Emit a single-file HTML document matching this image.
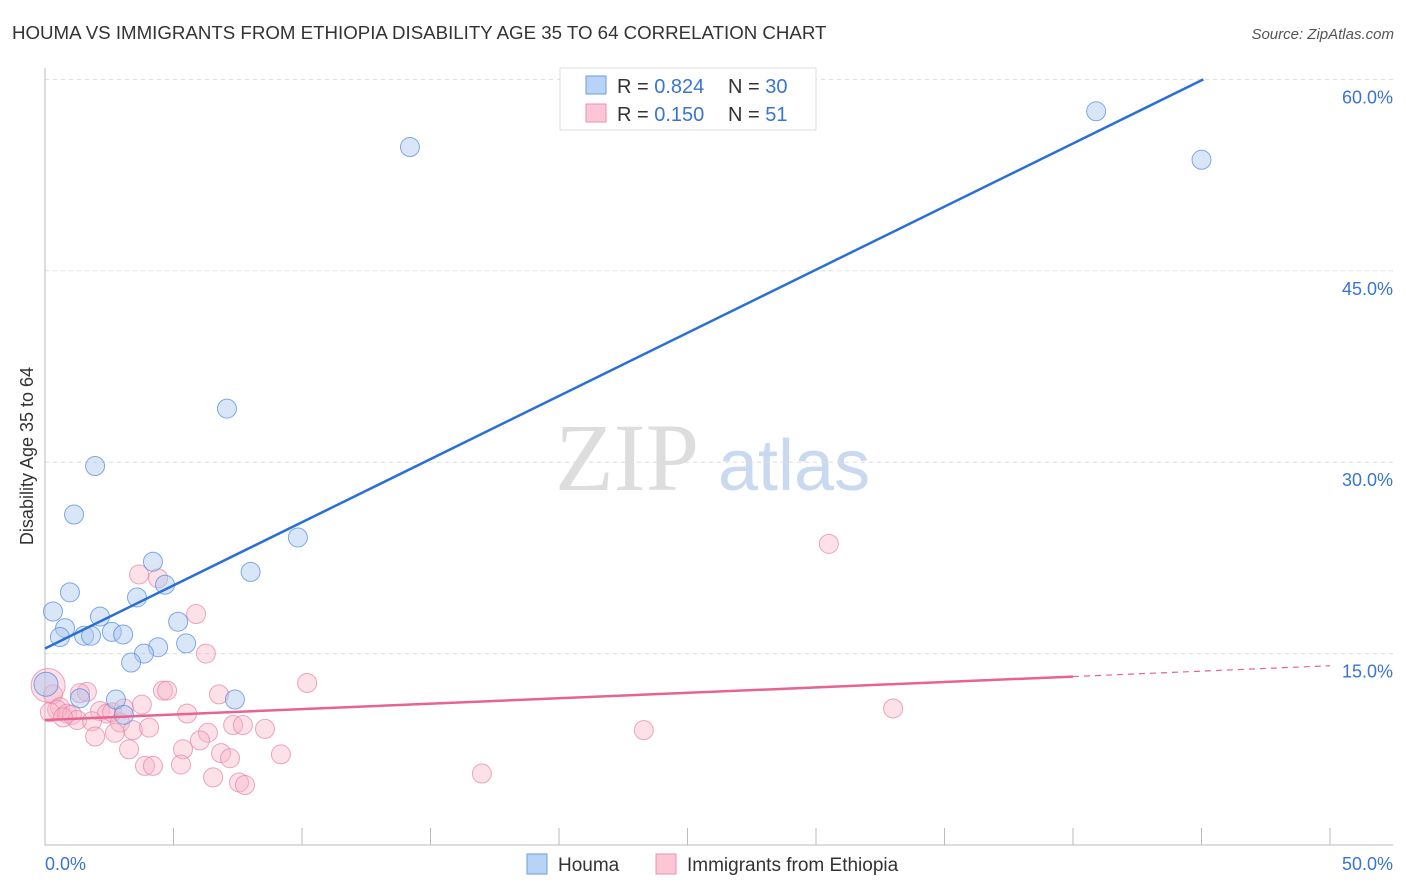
<!DOCTYPE html>
<html><head><meta charset="utf-8"><style>
body{margin:0;background:#fff;font-family:"Liberation Sans",sans-serif;}
#wrap{position:relative;width:1406px;height:892px;overflow:hidden;}
</style></head><body>
<div id="wrap">
<svg id="svg" width="1406" height="892" xmlns="http://www.w3.org/2000/svg">
<text x="12" y="39" font-size="18.7" fill="#333">HOUMA VS IMMIGRANTS FROM ETHIOPIA DISABILITY AGE 35 TO 64 CORRELATION CHART</text>
<text x="1394" y="39" font-size="15" fill="#555" font-style="italic" text-anchor="end">Source: ZipAtlas.com</text>
<text x="555" y="490" font-size="96" fill="#ddd" font-family="Liberation Serif,serif">ZIP</text>
<text x="718" y="490" font-size="72" fill="#c8d9f0">atlas</text>
<text transform="translate(33,456) rotate(-90)" font-size="18" fill="#333" text-anchor="middle">Disability Age 35 to 64</text>
<g id="grid"></g><g id="axes"></g><g id="pts"></g><g id="lines"></g>
<g>
<rect x="560" y="68" width="256" height="62" fill="#fff" stroke="#ddd"/>
<rect x="586" y="76" width="20" height="18" fill="#b8d3f5" stroke="#6a9de0"/>
<rect x="586" y="104" width="20" height="18" fill="#fcc6d6" stroke="#ec8fae"/>
<text x="617" y="93" font-size="20" fill="#333">R = <tspan fill="#3a74d2">0.824</tspan><tspan x="728">N = </tspan><tspan fill="#3a74d2">30</tspan></text>
<text x="617" y="121" font-size="20" fill="#333">R = <tspan fill="#3a74d2"> 0.150</tspan><tspan x="728">N = </tspan><tspan fill="#3a74d2"> 51</tspan></text>
</g>
<g>
<rect x="527" y="854" width="20" height="20" fill="#b8d3f5" stroke="#6a9de0"/>
<text x="558" y="871" font-size="19" fill="#333">Houma</text>
<rect x="656" y="854" width="20" height="20" fill="#fcc6d6" stroke="#ec8fae"/>
<text x="687" y="871" font-size="19" fill="#333">Immigrants from Ethiopia</text>
</g>
</svg>
</div>
<script>
const yTicks=[15,30,45,60];
const yTickLabels=["15.0%","30.0%","45.0%","60.0%"];
const xTickLabels=["0.0%","50.0%"];
const houmaX=[14.2,40.9,45.0,7.08,1.95,1.13,9.84,4.2,8.0,4.67,0.97,3.58,0.31,2.14,5.18,0.78,0.58,1.52,1.79,2.6,3.04,5.49,4.4,3.85,3.35,0.04,1.36,2.76,7.39,3.07];
const houmaY=[54.7,57.5,53.7,34.2,29.7,25.9,24.1,22.2,21.4,20.4,19.8,19.4,18.3,17.9,17.5,17.0,16.3,16.4,16.4,16.7,16.5,15.8,15.5,15.0,14.3,12.6,11.5,11.4,11.4,10.2];
const ethX=[30.5,33.0,23.3,17.0,3.66,4.40,5.88,6.26,10.2,4.59,4.75,6.77,1.63,0.31,0.12,0.58,0.47,0.86,1.05,1.25,1.36,2.14,2.41,2.61,1.83,2.92,3.07,3.77,3.42,1.95,3.27,3.89,4.20,4.05,5.53,6.34,6.03,5.37,5.29,6.54,6.85,7.20,7.32,7.70,8.56,9.18,7.55,7.78,0.19,0.70,2.72];
const ethY=[23.6,10.7,9.0,5.6,21.2,20.9,18.1,15.0,12.7,12.1,12.1,11.8,12.0,11.8,12.5,10.8,10.6,10.3,10.2,9.8,11.9,10.5,10.3,10.4,9.7,9.6,10.7,11.0,9.0,8.5,7.5,6.2,6.2,9.2,10.3,8.8,8.2,7.5,6.3,5.3,7.2,6.8,9.4,9.4,9.1,7.1,4.9,4.7,10.4,10.0,8.8];
const houmaTrend=[15.4,0.9895]; // intercept, slope
const ethTrend=[9.8,0.085];
const ethTrendSolidEnd=40;
const X=v=>45+v*25.7, Y=v=>845-v*12.76;
const NS="http://www.w3.org/2000/svg";
function mk(tag,attrs,parent){const e=document.createElementNS(NS,tag);for(const k in attrs)e.setAttribute(k,attrs[k]);document.getElementById(parent).appendChild(e);return e;}
yTicks.forEach((t,i)=>{
 const g=mk('line',{x1:45,x2:1393,y1:Y(t),y2:Y(t),stroke:'#ddd','stroke-dasharray':'4,4'},'grid');
 
 
 const l=mk('text',{x:1393,y:Y(t)+24,'font-size':18,fill:'#3a74d2','text-anchor':'end'},'grid');
 l.textContent=yTickLabels[i];
 
 
});
mk('line',{x1:45,x2:45,y1:68,y2:845,stroke:'#bbb'},'axes');
mk('line',{x1:45,x2:1393,y1:845,y2:845,stroke:'#bbb'},'axes');
for(let i=0;i<=10;i++){const t=mk('line',{x1:X(i*5),x2:X(i*5),y1:828,y2:845,stroke:'#bbb'},'axes');
 
 }
const xl0=mk('text',{x:45,y:870,'font-size':18,fill:'#3a74d2'},'axes');xl0.textContent=xTickLabels[0];


const xl1=mk('text',{x:1393,y:870,'font-size':18,fill:'#3a74d2','text-anchor':'end'},'axes');xl1.textContent=xTickLabels[1];


ethX.forEach((x,i)=>{const c=mk('circle',{cx:X(x),cy:Y(ethY[i]),r:i==14?17:9.5,fill:'rgba(248,180,200,0.4)',stroke:'rgba(230,130,165,0.7)','stroke-width':1},'pts');
 
 });
houmaX.forEach((x,i)=>{const c=mk('circle',{cx:X(x),cy:Y(houmaY[i]),r:i==25?12:9.5,fill:'rgba(170,200,240,0.45)',stroke:'rgba(80,135,215,0.7)','stroke-width':1},'pts');
 
 });
const bEnd=(60-houmaTrend[0])/houmaTrend[1];
const bl=mk('line',{x1:X(0),y1:Y(houmaTrend[0]),x2:X(bEnd),y2:Y(60),stroke:'#2a6fd6','stroke-width':2.5},'lines');


const pl=mk('line',{x1:X(0),y1:Y(ethTrend[0]),x2:X(ethTrendSolidEnd),y2:Y(ethTrend[0]+ethTrend[1]*ethTrendSolidEnd),stroke:'#e8638f','stroke-width':2.5},'lines');


const pd=mk('line',{x1:X(ethTrendSolidEnd),y1:Y(ethTrend[0]+ethTrend[1]*ethTrendSolidEnd),x2:X(50),y2:Y(ethTrend[0]+ethTrend[1]*50),stroke:'#e8638f','stroke-width':1.2,'stroke-dasharray':'6,5'},'lines');


</script>
</body></html>
